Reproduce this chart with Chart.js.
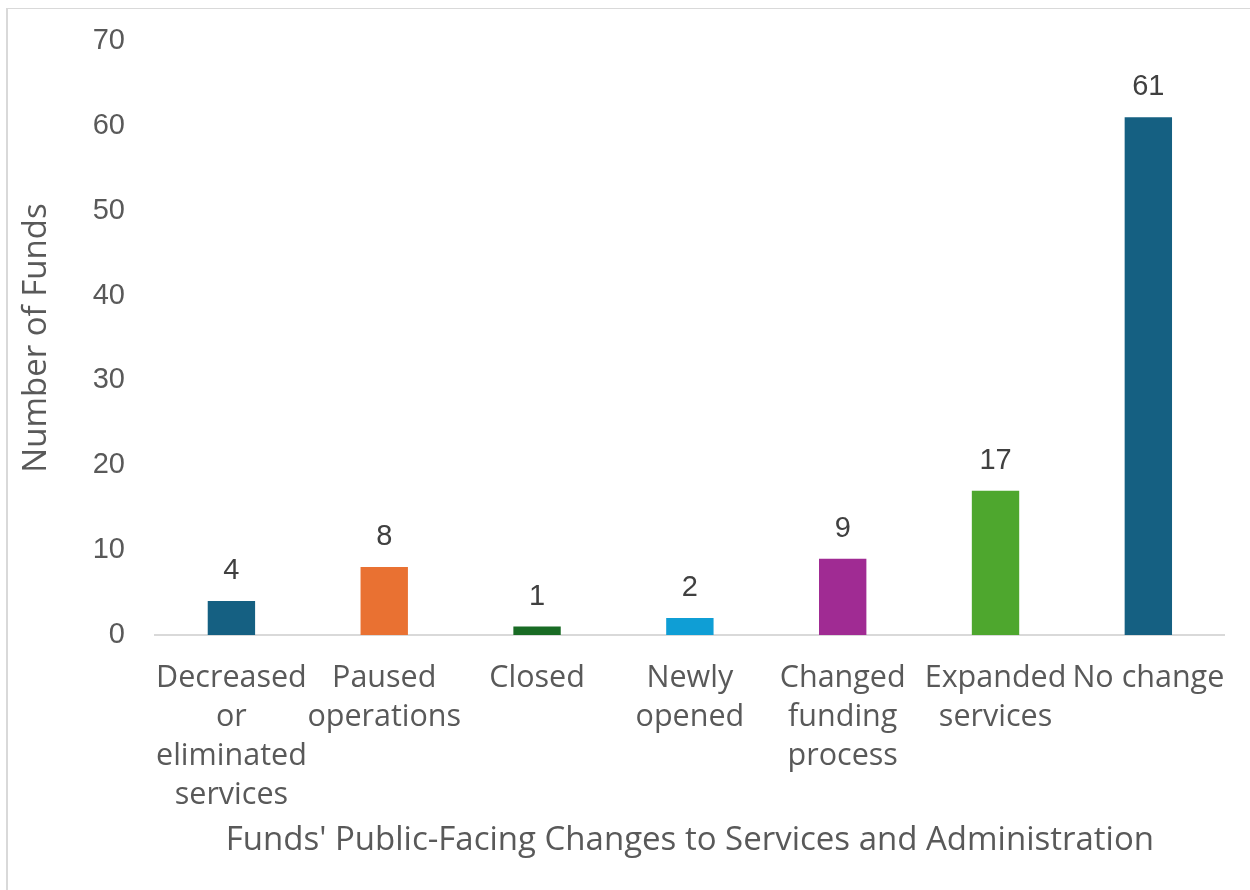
<!DOCTYPE html>
<html>
<head>
<meta charset="utf-8">
<script src="https://cdn.jsdelivr.net/npm/chart.js@4.4.1/dist/chart.umd.min.js"></script>
<style>
  html, body { margin: 0; padding: 0; background: #ffffff; }
  #wrap { position: absolute; left: 0; top: 0; width: 1250px; height: 890px; }
  #frame { position: absolute; left: 6px; top: 8px; right: 0; bottom: 0; border-left: 2px solid #d9d9d9; border-top: 1px solid #d9d9d9; pointer-events: none; }
</style>
</head>
<body>
<div id="wrap">
  <canvas id="c" width="1250" height="890"></canvas>
  <div id="frame"></div>
</div>
<script>
const categories = [
  ["Decreased", "or", "eliminated", "services"],
  ["Paused", "operations"],
  ["Closed"],
  ["Newly", "opened"],
  ["Changed", "funding", "process"],
  ["Expanded", "services"],
  ["No change"]
];
const fundCounts = [4, 8, 1, 2, 9, 17, 61];
const barColors = ["#156082", "#E97132", "#196B24", "#0F9ED5", "#A02B93", "#4EA72E", "#156082"];
const yTicks = [0, 10, 20, 30, 40, 50, 60, 70];
const xTitle = "Funds' Public-Facing Changes to Services and Administration";
const yTitle = "Number of Funds";

const TEXT = "#595959";
const LABEL_FONT = "'Open Sans', 'Liberation Sans', sans-serif";
const NUM_FONT = "'Liberation Sans', Arial, sans-serif";

const valueLabels = {
  id: 'valueLabels',
  afterDatasetsDraw(chart) {
    const ctx = chart.ctx;
    const meta = chart.getDatasetMeta(0);
    ctx.save();
    ctx.fillStyle = "#404040";
    ctx.font = "29px " + NUM_FONT;
    ctx.textAlign = "center";
    ctx.textBaseline = "middle";
    meta.data.forEach((bar, i) => {
      ctx.fillText(String(fundCounts[i]), bar.x, bar.y - 30);
    });
    ctx.restore();
  }
};

new Chart(document.getElementById('c'), {
  type: 'bar',
  data: {
    labels: categories,
    datasets: [{
      data: fundCounts,
      backgroundColor: barColors,
      borderWidth: 0,
      categoryPercentage: 1.0,
      barPercentage: 0.31
    }]
  },
  options: {
    responsive: false,
    animation: false,
    devicePixelRatio: 1,
    layout: { padding: { top: 41, right: 24, left: 0, bottom: 0 } },
    plugins: {
      legend: { display: false },
      tooltip: { enabled: false }
    },
    scales: {
      x: {
        grid: { display: false, drawTicks: false },
        border: { display: true, color: "#d9d9d9", width: 2 },
        ticks: {
          color: TEXT,
          font: { family: LABEL_FONT, size: 30.5, lineHeight: 1.28 },
          padding: 24,
          maxRotation: 0,
          autoSkip: false
        },
        title: {
          display: true,
          text: xTitle,
          color: TEXT,
          font: { family: LABEL_FONT, size: 33, lineHeight: 1.2 },
          padding: { top: 0, bottom: 30 }
        },
        afterFit(scale) { scale.height = 255; }
      },
      y: {
        min: 0,
        max: 70,
        afterBuildTicks(scale) { scale.ticks = yTicks.map(v => ({ value: v })); },
        grid: { display: false, drawTicks: false },
        border: { display: false },
        ticks: {
          color: TEXT,
          font: { family: NUM_FONT, size: 29 },
          padding: 30
        },
        title: {
          display: true,
          text: yTitle,
          color: TEXT,
          font: { family: LABEL_FONT, size: 33, lineHeight: 1.2 },
          padding: { top: 17, bottom: 0 }
        },
        afterFit(scale) {
          scale.width = 155;
          scale.paddingTop = 10;
          scale.paddingBottom = 10;
        }
      }
    }
  },
  plugins: [valueLabels]
});
</script>
</body>
</html>
